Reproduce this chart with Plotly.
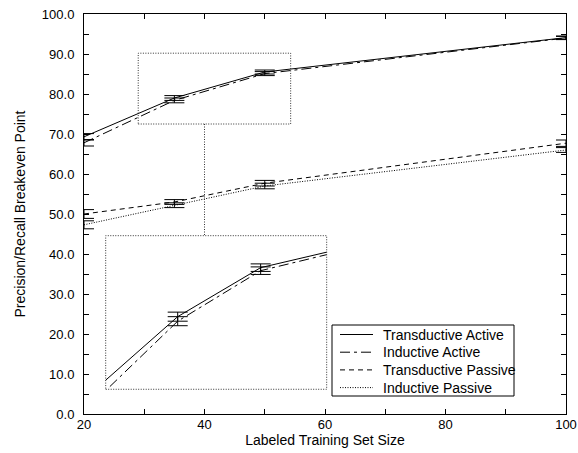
import plotly.graph_objects as go

# ---- data ----
train_size = [20, 35, 50, 100]

trans_active = [69.3, 79.0, 85.5, 94.1]
trans_active_err = [0.8, 0.6, 0.5, 0.4]
ind_active = [67.8, 78.4, 85.1, 94.0]
ind_active_err = [0.8, 0.6, 0.5, 0.4]
trans_passive = [50.0, 53.0, 57.7, 67.7]
trans_passive_err = [1.1, 0.6, 0.7, 0.8]
ind_passive = [47.3, 52.2, 57.0, 66.0]
ind_passive_err = [1.0, 0.6, 0.7, 0.6]

series_names = ["Transductive Active", "Inductive Active", "Transductive Passive", "Inductive Passive"]
series_vals = [trans_active, ind_active, trans_passive, ind_passive]
series_errs = [trans_active_err, ind_active_err, trans_passive_err, ind_passive_err]
series_dash = ["solid", "10px,4px,3px,4px", "5px,4px", "1px,1.5px"]

y_ticks = [0, 10, 20, 30, 40, 50, 60, 70, 80, 90, 100]
x_ticks = [20, 40, 60, 80, 100]

# zoom region shown in main plot and inset placement
zoom_box = dict(x0=29.0, x1=54.3, y0=72.5, y1=90.2)
inset_x_range = [21.98, 61.94]
inset_y_range = [69.37, 89.74]
inset_dom_x = [0.045, 0.5035]
inset_dom_y = [0.0618, 0.4458]

FONT = "Liberation Sans, Arial, sans-serif"

W, H = 578, 453
ML, MR, MT, MB = 84, 12, 14, 39
PW, PH = W - ML - MR, H - MT - MB


def px_to_paper(px, py):
    return (px - ML) / PW, (H - MB - py) / PH


fig = go.Figure()

for name, vals, errs, dash in zip(series_names, series_vals, series_errs, series_dash):
    fig.add_trace(go.Scatter(
        x=train_size, y=vals, name=name, mode="lines", showlegend=False,
        line=dict(color="black", width=1, dash=dash),
        error_y=dict(type="data", array=errs, visible=True, color="black", thickness=1, width=10),
        cliponaxis=False,
    ))

# inset (active curves only)
for name, vals, errs, dash in zip(series_names[:2], series_vals[:2], series_errs[:2], series_dash[:2]):
    fig.add_trace(go.Scatter(
        x=train_size, y=vals, name=name, mode="lines", showlegend=False,
        xaxis="x2", yaxis="y2",
        line=dict(color="black", width=1, dash=dash),
        error_y=dict(type="data", array=errs, visible=True, color="black", thickness=1, width=10),
    ))

dot = dict(color="#333333", width=1, dash="1px,1.5px")
shapes = [
    dict(type="rect", xref="x", yref="y", line=dot, **zoom_box),
    dict(type="rect", xref="paper", yref="paper",
         x0=inset_dom_x[0], x1=inset_dom_x[1], y0=inset_dom_y[0], y1=inset_dom_y[1], line=dot),
    dict(type="line", xref="x", yref="paper", x0=40, x1=40,
         y0=zoom_box["y0"] / 100.0, y1=inset_dom_y[1], line=dot),
]
annotations = []

# ---- hand-drawn legend box (gnuplot style) ----
lx0, ly0 = px_to_paper(332, 325)
lx1, ly1 = px_to_paper(514, 396)
shapes.append(dict(type="rect", xref="paper", yref="paper", x0=lx0, x1=lx1, y0=ly1, y1=ly0,
                   line=dict(color="black", width=1), fillcolor="white", layer="above"))
for i, (name, dash) in enumerate(zip(series_names, series_dash)):
    cy = 334.5 + i * 17.7
    sx0, sy = px_to_paper(340, cy)
    sx1, _ = px_to_paper(373, cy)
    shapes.append(dict(type="line", xref="paper", yref="paper", x0=sx0, x1=sx1, y0=sy, y1=sy,
                       line=dict(color="black", width=1, dash=dash), layer="above"))
    tx, _ = px_to_paper(381, cy)
    annotations.append(dict(xref="paper", yref="paper", x=tx, y=sy, text=name, showarrow=False,
                            xanchor="left", yanchor="middle", xshift=0,
                            font=dict(family=FONT, size=14, color="black")))

axis_common = dict(
    showline=True, linecolor="black", linewidth=1, mirror="ticks",
    ticks="inside", ticklen=5, tickcolor="black", tickwidth=1,
    showgrid=False, zeroline=False, automargin=False,
    tickfont=dict(family=FONT, size=13, color="black"),
)

fig.update_layout(
    width=W, height=H,
    margin=dict(l=ML, r=MR, t=MT, b=MB, autoexpand=False),
    paper_bgcolor="white", plot_bgcolor="white",
    font=dict(family=FONT, size=14, color="black"),
    xaxis=dict(range=[20, 100], tickvals=x_ticks,
               minor=dict(dtick=10, tick0=20, ticks="inside", ticklen=5, tickcolor="black"),
               title=dict(text="Labeled Training Set Size", font=dict(size=14), standoff=4),
               ticklabelstandoff=-2,
               **axis_common),
    yaxis=dict(range=[0, 100], tickvals=y_ticks, tickformat=".1f",
               minor=dict(dtick=5, tick0=0, ticks="inside", ticklen=5, tickcolor="black"),
               title=dict(text="Precision/Recall Breakeven Point", font=dict(size=14), standoff=12),
               ticklabelstandoff=6,
               **axis_common),
    xaxis2=dict(domain=inset_dom_x, range=inset_x_range, anchor="y2", visible=False),
    yaxis2=dict(domain=inset_dom_y, range=inset_y_range, anchor="x2", visible=False),
    shapes=shapes,
    annotations=annotations,
    showlegend=False,
)

fig.write_html("out.html")
